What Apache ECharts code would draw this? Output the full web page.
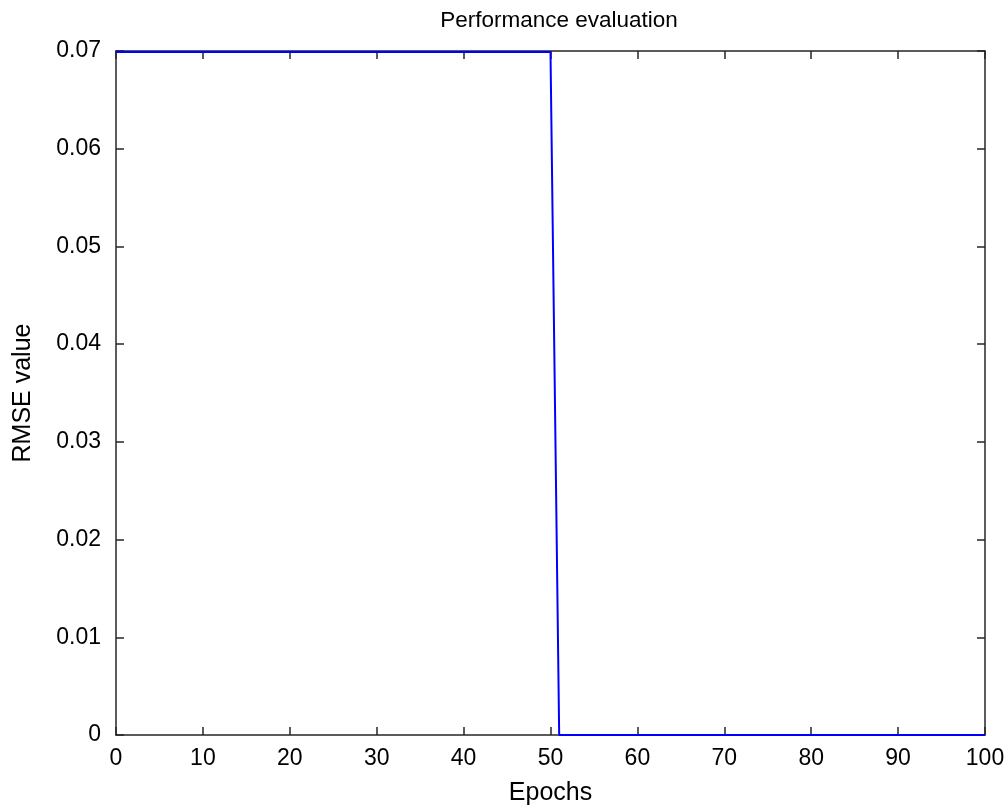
<!DOCTYPE html>
<html>
<head>
<meta charset="utf-8">
<script src="https://cdn.jsdelivr.net/npm/echarts@6/dist/echarts.min.js"></script>
<style>
html,body{margin:0;padding:0;background:#fff;}
#chart{width:1007px;height:807px;}
</style>
</head>
<body>
<div id="chart"></div>
<script>
const titleText = 'Performance evaluation';
const xName = 'Epochs';
const yName = 'RMSE value';
const epochs = [0,1,2,3,4,5,6,7,8,9,10,11,12,13,14,15,16,17,18,19,20,21,22,23,24,25,26,27,28,29,30,31,32,33,34,35,36,37,38,39,40,41,42,43,44,45,46,47,48,49,50,51,52,53,54,55,56,57,58,59,60,61,62,63,64,65,66,67,68,69,70,71,72,73,74,75,76,77,78,79,80,81,82,83,84,85,86,87,88,89,90,91,92,93,94,95,96,97,98,99,100];
const rmse = [
0.0699,0.0699,0.0699,0.0699,0.0699,0.0699,0.0699,0.0699,0.0699,0.0699,
0.0699,0.0699,0.0699,0.0699,0.0699,0.0699,0.0699,0.0699,0.0699,0.0699,
0.0699,0.0699,0.0699,0.0699,0.0699,0.0699,0.0699,0.0699,0.0699,0.0699,
0.0699,0.0699,0.0699,0.0699,0.0699,0.0699,0.0699,0.0699,0.0699,0.0699,
0.0699,0.0699,0.0699,0.0699,0.0699,0.0699,0.0699,0.0699,0.0699,0.0699,
0.0699,0,0,0,0,0,0,0,0,0,
0,0,0,0,0,0,0,0,0,0,
0,0,0,0,0,0,0,0,0,0,
0,0,0,0,0,0,0,0,0,0,
0,0,0,0,0,0,0,0,0,0,
0];

const FONT = "'Liberation Sans', Arial, sans-serif";
const axisColor = '#262626';
const chart = echarts.init(document.getElementById('chart'), null, {renderer: 'canvas'});

function yFmt(v){ return v === 0 ? '0' : v.toFixed(2); }

const commonX = {type:'value', min:0, max:100, interval:10, splitLine:{show:false},
  axisLine:{show:true, onZero:false, lineStyle:{color:axisColor, width:1.5}},
  axisTick:{show:true, inside:true, length:8, lineStyle:{color:axisColor, width:1.5}}};
const commonY = {type:'value', min:0, max:0.07, interval:0.01, splitLine:{show:false},
  axisLine:{show:true, onZero:false, lineStyle:{color:axisColor, width:1.5}},
  axisTick:{show:true, inside:true, length:8, lineStyle:{color:axisColor, width:1.5}}};

chart.setOption({
  animation:false,
  backgroundColor:'#ffffff',
  title:{show:false},
  graphic:[{type:'text', x:559, y:9, silent:true,
    style:{text:titleText, textAlign:'center', textVerticalAlign:'top',
      font:"22.5px 'Liberation Sans', Arial, sans-serif", fill:'#000'}}],
  grid:{left:116, right:22, top:51, bottom:72, containLabel:false, outerBoundsMode:'none'},
  xAxis:[
    Object.assign({}, commonX, {position:'bottom', name:xName, nameLocation:'middle', nameGap:46,
      nameTextStyle:{fontFamily:FONT, fontSize:25, color:'#000'},
      axisLabel:{fontFamily:FONT, fontSize:23, color:'#000', margin:12}}),
    Object.assign({}, commonX, {position:'top', axisLabel:{show:false}})
  ],
  yAxis:[
    Object.assign({}, commonY, {position:'left', name:yName, nameLocation:'middle', nameGap:80,
      nameTextStyle:{fontFamily:FONT, fontSize:25, color:'#000'},
      axisLabel:{fontFamily:FONT, fontSize:23, color:'#000', margin:15, formatter:yFmt}}),
    Object.assign({}, commonY, {position:'right', axisLabel:{show:false}})
  ],
  series:[{
    type:'line', xAxisIndex:0, yAxisIndex:0,
    data: epochs.map((e,i)=>[e, rmse[i]]),
    showSymbol:false, symbol:'none',
    lineStyle:{color:'#0000ff', width:2},
    clip:false
  }]
});
</script>
</body>
</html>
